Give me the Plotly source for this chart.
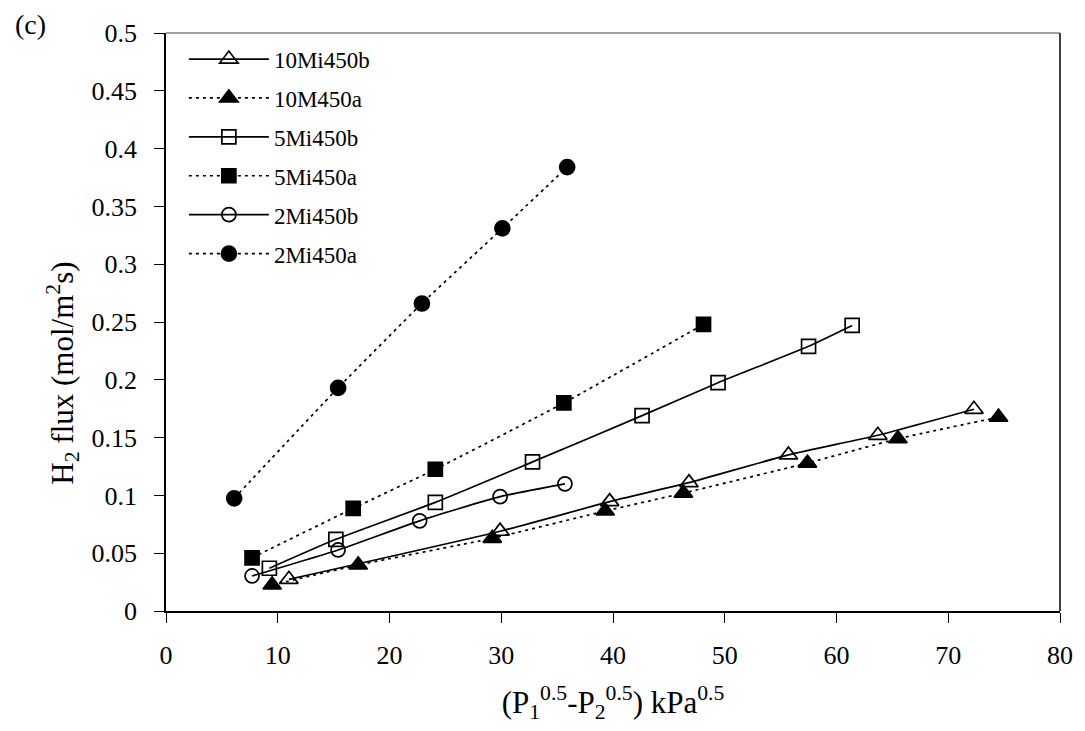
import plotly.graph_objects as go

# ---- data ----
x_10Mi450b = [11.0, 29.9, 39.7, 46.8, 55.7, 63.7, 72.3]
y_10Mi450b = [0.0274, 0.069, 0.0946, 0.111, 0.135, 0.152, 0.1745]

x_10M450a = [9.5, 17.2, 29.2, 39.3, 46.3, 57.4, 65.5, 74.5]
y_10M450a = [0.0225, 0.0398, 0.0629, 0.0865, 0.102, 0.128, 0.149, 0.1676]

x_5Mi450b = [9.25, 15.2, 24.1, 32.8, 42.6, 49.4, 57.5, 61.4]
y_5Mi450b = [0.037, 0.062, 0.094, 0.129, 0.169, 0.1975, 0.229, 0.247]

x_5Mi450a = [7.7, 16.75, 24.1, 35.6, 48.1]
y_5Mi450a = [0.046, 0.0888, 0.1226, 0.180, 0.248]

x_2Mi450b = [7.7, 15.4, 22.7, 29.9, 35.7]
y_2Mi450b = [0.0303, 0.0528, 0.078, 0.0989, 0.110]

x_2Mi450a = [6.1, 15.4, 22.9, 30.1, 35.9]
y_2Mi450a = [0.0975, 0.193, 0.266, 0.331, 0.384]

series = [
    ("10Mi450b", x_10Mi450b, y_10Mi450b, "triangle-up-open", "solid", 16),
    ("10M450a", x_10M450a, y_10M450a, "triangle-up", "3px,4px", 16),
    ("5Mi450b", x_5Mi450b, y_5Mi450b, "square-open", "solid", 14),
    ("5Mi450a", x_5Mi450a, y_5Mi450a, "square", "3px,4px", 14),
    ("2Mi450b", x_2Mi450b, y_2Mi450b, "circle-open", "solid", 14),
    ("2Mi450a", x_2Mi450a, y_2Mi450a, "circle", "3px,4px", 15),
]

FONT = "Liberation Serif"

fig = go.Figure()
for i, (name, xs, ys, sym, dash, ms) in enumerate(series):
    fig.add_trace(go.Scatter(
        x=xs, y=ys, name=name, mode="lines+markers",
        legendgroup=f"g{i}",
        line=dict(color="black", width=1.7, dash=dash, shape="spline", smoothing=0.5),
        marker=dict(symbol=sym, size=ms, color="black",
                    line=dict(color="black", width=1.7)),
    ))

fig.update_layout(
    width=1085, height=731,
    margin=dict(l=166, r=20, t=33, b=120),
    paper_bgcolor="white", plot_bgcolor="white",
    font=dict(family=FONT, size=26, color="black"),
    showlegend=True,
    legend=dict(
        x=0.02, y=0.992, xanchor="left", yanchor="top",
        bgcolor="rgba(0,0,0,0)", borderwidth=0,
        font=dict(family=FONT, size=23, color="black"),
        itemwidth=80, traceorder="grouped", tracegroupgap=6,
    ),
    xaxis=dict(
        range=[0, 80], tickmode="linear", tick0=0, dtick=10,
        showgrid=False, zeroline=False,
        showline=True, linecolor="black", linewidth=1.5,
        ticks="outside", ticklen=10, tickcolor="black", tickwidth=1,
        ticklabelstandoff=10,
        tickfont=dict(family=FONT, size=26, color="black"),
        title=dict(text="(P<sub>1</sub><sup>0.5</sup>-P<sub>2</sub><sup>0.5</sup>) kPa<sup>0.5</sup>",
                   font=dict(family=FONT, size=31, color="black"), standoff=22),
    ),
    yaxis=dict(
        range=[0, 0.5], tickmode="linear", tick0=0, dtick=0.05,
        showgrid=False, zeroline=False,
        showline=True, linecolor="black", linewidth=1.5, mirror=False,
        ticks="outside", ticklen=10, tickcolor="black", tickwidth=1,
        ticklabelstandoff=12,
        tickfont=dict(family=FONT, size=26, color="black"),
    ),
    shapes=[
        dict(type="line", xref="paper", yref="paper", x0=0, x1=1, y0=1, y1=1,
             line=dict(color="#808080", width=1.5)),
        dict(type="line", xref="paper", yref="paper", x0=1, x1=1, y0=0, y1=1,
             line=dict(color="black", width=1.5)),
    ],
    annotations=[
        dict(text="(c)", xref="paper", yref="paper", x=-0.171, y=1.015,
             xanchor="left", yanchor="middle", showarrow=False,
             font=dict(family=FONT, size=28, color="black")),
        dict(text="H<sub>2</sub> flux (mol/m<sup>2</sup>s)", textangle=-90,
             xref="paper", yref="paper", x=-0.115, y=0.411,
             xanchor="center", yanchor="middle", showarrow=False,
             font=dict(family=FONT, size=31, color="black")),
    ],
)

fig.write_html("out.html")
